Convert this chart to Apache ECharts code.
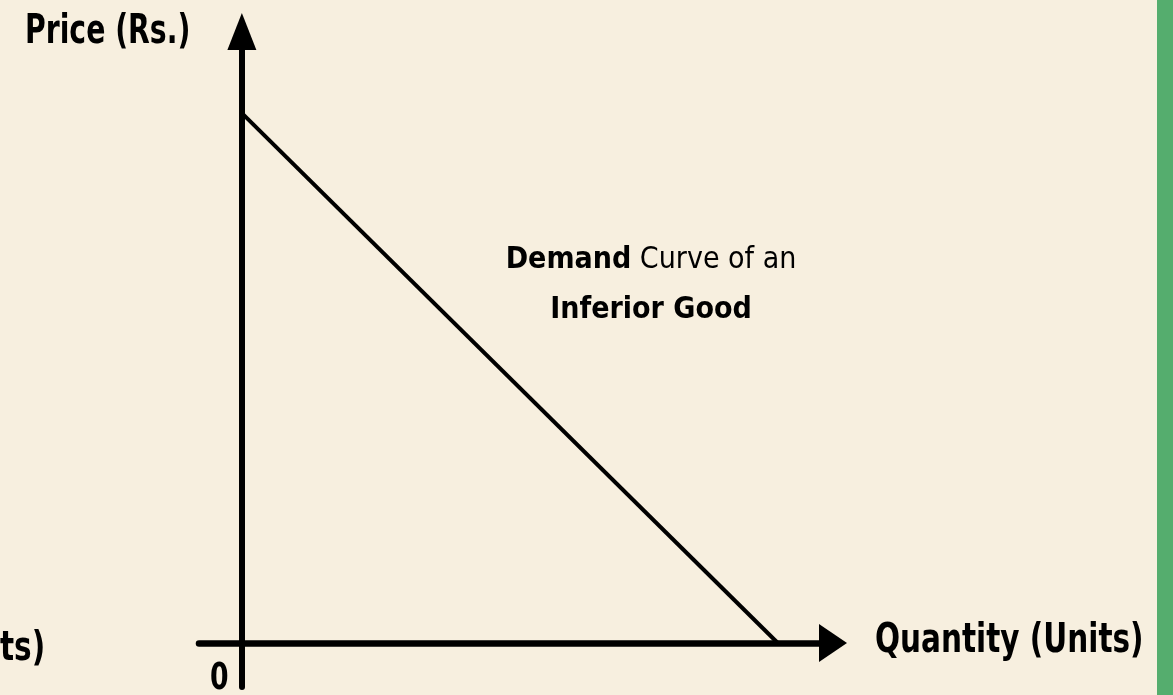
<!DOCTYPE html>
<html>
<head>
<meta charset="utf-8">
<script src="https://cdn.jsdelivr.net/npm/echarts@6/dist/echarts.min.js"></script>
<style>
  html, body { margin: 0; padding: 0; background: #f7efdf; }
  #main { width: 1173px; height: 695px; }
</style>
</head>
<body>
<div id="main"></div>
<script>
  // 数据：需求曲线两个端点 (数量, 价格)
  var demandQty = [0, 100];
  var demandPrice = [100, 0];
  // 坐标轴范围（轴线越过原点一点，箭头在末端）
  var xRange = [-8, 110.3];
  var yRange = [-8.3, 115.4];
  var xName = 'Quantity (Units)';
  var yName = 'Price (Rs.)';
  var originLabel = '0';
  var noteLine1 = ['Demand', ' Curve of an'];
  var noteLine2 = 'Inferior Good';

  var FONT = "'DejaVu Sans Condensed', 'DejaVu Sans', sans-serif";

  var myChart = echarts.init(document.getElementById('main'));

  var points = [];
  for (var i = 0; i < demandQty.length; i++) {
      points.push([demandQty[i], demandPrice[i]]);
  }

  // 文字横向压窄一点，模仿原图的窄字体
  function label(text, x, y, size, sx) {
      return {
          type: 'text',
          x: x,
          y: y,
          scaleX: sx,
          silent: true,
          style: { text: text, font: 'bold ' + size + 'px ' + FONT, fill: '#000', verticalAlign: 'top' }
      };
  }

  var option = {
      backgroundColor: '#f7efdf',
      animation: false,
      grid: {
          left: 199,
          right: 340,
          top: 31.5,
          bottom: 8
      },
      xAxis: {
          type: 'value',
          min: xRange[0],
          max: xRange[1],
          axisLine: {
              onZero: true,
              symbol: ['none', 'triangle'],
              symbolSize: [38, 28],
              lineStyle: { color: '#000', width: 6.5 }
          },
          axisTick: { show: false },
          axisLabel: { show: false },
          splitLine: { show: false }
      },
      yAxis: {
          type: 'value',
          min: yRange[0],
          max: yRange[1],
          axisLine: {
              show: true,
              onZero: true,
              symbol: ['none', 'triangle'],
              symbolSize: [29, 37],
              lineStyle: { color: '#000', width: 6 }
          },
          axisTick: { show: false },
          axisLabel: { show: false },
          splitLine: { show: false }
      },
      series: [{
          type: 'line',
          data: points,
          symbol: 'none',
          lineStyle: { color: '#000', width: 4 },
          z: 1
      }],
      graphic: [
          // 右侧绿色边条
          { type: 'rect', x: 1157, y: 0, shape: { width: 16, height: 695 }, style: { fill: '#55ad6e' }, silent: true },
          label(yName, 25, 13, 40, 0.786),
          label(xName, 875, 621, 41, 0.8),
          label('ts)', 0, 629, 41, 0.8),
          label(originLabel, 210, 660, 38, 0.78),
          {
              type: 'text',
              x: 651,
              y: 235,
              silent: true,
              style: {
                  text: '{b|' + noteLine1[0] + '}{n|' + noteLine1[1] + '}\n{b|' + noteLine2 + '}',
                  align: 'center',
                  verticalAlign: 'top',
                  rich: {
                      b: { font: 'bold 30px ' + FONT, fill: '#000', lineHeight: 50, align: 'center' },
                      n: { font: '30px ' + FONT, fill: '#000', lineHeight: 50, align: 'center' }
                  }
              }
          }
      ]
  };

  myChart.setOption(option);
</script>
</body>
</html>
